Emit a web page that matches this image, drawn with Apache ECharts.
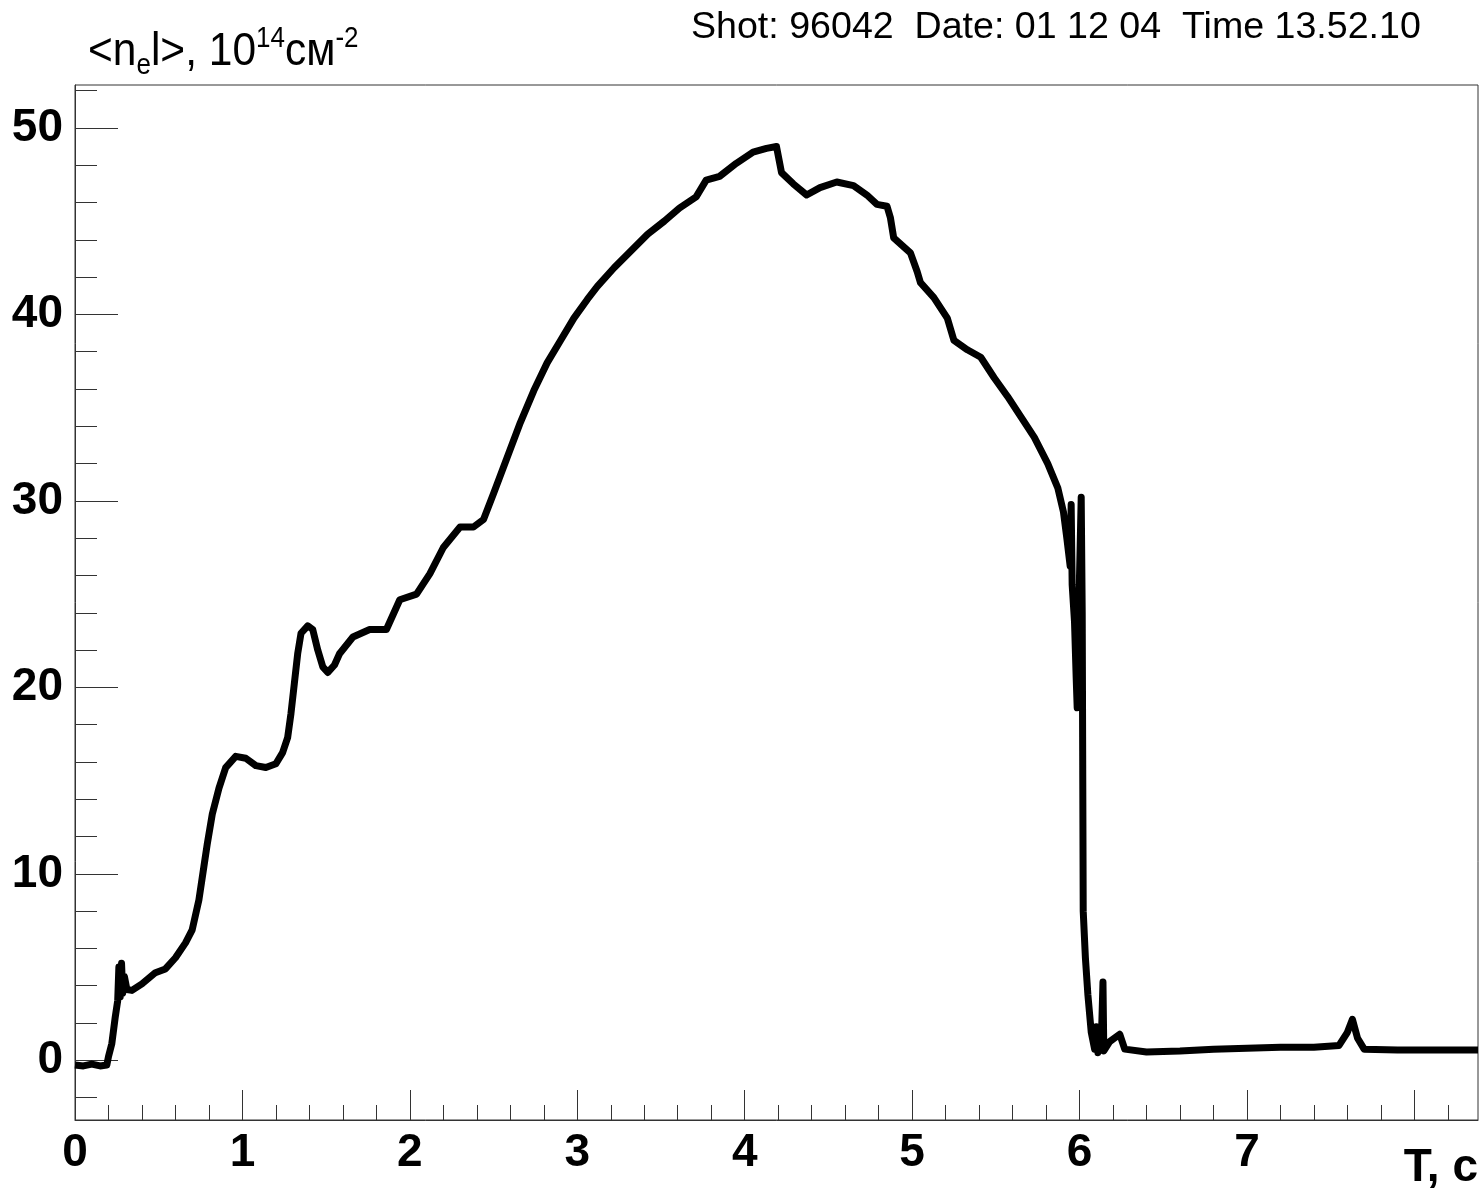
<!DOCTYPE html>
<html>
<head>
<meta charset="utf-8">
<script src="https://cdn.jsdelivr.net/npm/echarts@6/dist/echarts.min.js"></script>
<style>
html,body{margin:0;padding:0;background:#fff;}
#chart{width:1484px;height:1191px;}
</style>
</head>
<body>
<div id="chart"></div>
<script>
// Time, s
const timeS = [
  0.00, 0.05, 0.10, 0.15, 0.19, 0.20, 0.22, 0.24, 0.255, 0.262, 0.27, 0.278, 0.285, 0.295, 0.31,
  0.34, 0.40, 0.48, 0.54, 0.60, 0.66, 0.70, 0.74, 0.77, 0.79, 0.82, 0.86, 0.90, 0.96,
  1.02, 1.08, 1.14, 1.20, 1.24, 1.27, 1.29, 1.31, 1.33, 1.35, 1.39, 1.42, 1.45, 1.48,
  1.51, 1.55, 1.58, 1.66, 1.76, 1.86, 1.94, 2.04, 2.12, 2.20, 2.30, 2.38, 2.44, 2.50,
  2.58, 2.66, 2.74, 2.82, 2.90, 2.98, 3.06, 3.12, 3.22, 3.32, 3.42, 3.52, 3.61, 3.71,
  3.77, 3.85, 3.95, 4.05, 4.13, 4.19, 4.22, 4.29, 4.37, 4.45, 4.55, 4.65, 4.73, 4.79,
  4.85, 4.87, 4.89, 4.99, 5.03, 5.05, 5.13, 5.21, 5.25, 5.33, 5.41, 5.49, 5.57, 5.65,
  5.73, 5.81, 5.87, 5.904, 5.924, 5.944, 5.950, 5.956, 5.970, 5.980, 5.986, 5.992,
  6.000, 6.010, 6.016, 6.022, 6.035, 6.050, 6.070, 6.090, 6.100, 6.110, 6.130, 6.140,
  6.145, 6.180, 6.240, 6.270, 6.40, 6.60, 6.80, 7.00, 7.20, 7.40, 7.55, 7.60, 7.63,
  7.66, 7.70, 7.90, 8.10, 8.38
];
// <n_e l>, 10^14 cm^-2
const density = [
  -0.25, -0.30, -0.20, -0.30, -0.25, 0.2, 0.9, 2.3, 3.2, 5.0, 3.4, 5.2, 3.6, 4.5, 3.8,
  3.75, 4.1, 4.7, 4.9, 5.5, 6.3, 7.0, 8.6, 10.4, 11.6, 13.2, 14.6, 15.7, 16.3,
  16.2, 15.8, 15.7, 15.9, 16.5, 17.3, 18.6, 20.2, 21.8, 22.9, 23.3, 23.1, 22.0, 21.1,
  20.8, 21.2, 21.8, 22.7, 23.1, 23.1, 24.7, 25.0, 26.1, 27.5, 28.6, 28.6, 29.0, 30.4,
  32.3, 34.2, 35.9, 37.4, 38.6, 39.8, 40.8, 41.5, 42.5, 43.4, 44.3, 45.0, 45.7, 46.3,
  47.2, 47.4, 48.1, 48.7, 48.9, 49.0, 47.6, 47.0, 46.4, 46.8, 47.1, 46.9, 46.4, 45.9,
  45.8, 45.2, 44.1, 43.3, 42.3, 41.7, 40.9, 39.8, 38.6, 38.1, 37.7, 36.6, 35.6, 34.5,
  33.4, 32.0, 30.7, 29.4, 28.0, 26.5, 29.8, 25.5, 23.5, 20.5, 18.9, 20.0,
  26.0, 30.2, 24.0, 8.0, 5.5, 3.5, 1.5, 0.6, 1.8, 0.4, 1.0, 4.2,
  0.5, 1.0, 1.4, 0.6, 0.45, 0.5, 0.6, 0.65, 0.7, 0.7, 0.8, 1.5, 2.2,
  1.2, 0.6, 0.55, 0.55, 0.55
];
// Tick labels / ticks
const xMajorTicks = [0, 1, 2, 3, 4, 5, 6, 7, 8];
const xLabelValues = [0, 1, 2, 3, 4, 5, 6, 7];
const xMinorTicks = [0.2,0.4,0.6,0.8, 1.2,1.4,1.6,1.8, 2.2,2.4,2.6,2.8, 3.2,3.4,3.6,3.8,
  4.2,4.4,4.6,4.8, 5.2,5.4,5.6,5.8, 6.2,6.4,6.6,6.8, 7.2,7.4,7.6,7.8, 8.2];
const yMajorTicks = [0, 10, 20, 30, 40, 50];
const yMinorTicks = [-2, 2,4,6,8, 12,14,16,18, 22,24,26,28, 32,34,36,38, 42,44,46,48, 52];

const headerText = 'Shot: 96042  Date: 01 12 04  Time 13.52.10';
const xTitle = 'T, c';

const X_MIN = 0, X_MAX = 8.38, Y_MIN = -3.2, Y_MAX = 52.3;
const FONT = '"Liberation Sans", Arial, sans-serif';
const AX = '#333';

const chart = echarts.init(document.getElementById('chart'), null, {renderer: 'canvas'});
const seriesData = timeS.map((t, i) => [t, density[i]]);

chart.setOption({
  animation: false,
  backgroundColor: '#fff',
  grid: {left: 75, top: 85, right: 6, bottom: 71, show: true, borderColor: AX, borderWidth: 1, containLabel: false},
  xAxis: [{
    type: 'value', min: X_MIN, max: X_MAX, position: 'bottom',
    axisLine: {show: true, onZero: false, lineStyle: {color: AX, width: 1}},
    splitLine: {show: false},
    axisTick: {show: true, inside: true, length: 30, customValues: xMajorTicks, lineStyle: {color: AX, width: 1}},
    axisLabel: {show: true, customValues: xLabelValues, margin: 10, fontSize: 46, fontWeight: 'bold', fontFamily: FONT, color: '#000'}
  }, {
    type: 'value', min: X_MIN, max: X_MAX, position: 'bottom',
    axisLine: {show: false, onZero: false}, splitLine: {show: false}, axisLabel: {show: false},
    axisTick: {show: true, inside: true, length: 15, customValues: xMinorTicks, lineStyle: {color: AX, width: 1}}
  }],
  yAxis: [{
    type: 'value', min: Y_MIN, max: Y_MAX, position: 'left',
    axisLine: {show: true, onZero: false, lineStyle: {color: AX, width: 1}},
    splitLine: {show: false},
    axisTick: {show: true, inside: true, length: 43, customValues: yMajorTicks, lineStyle: {color: AX, width: 1}},
    axisLabel: {show: true, customValues: yMajorTicks, margin: 12, fontSize: 46, fontWeight: 'bold', fontFamily: FONT, color: '#000'}
  }, {
    type: 'value', min: Y_MIN, max: Y_MAX, position: 'left',
    axisLine: {show: false, onZero: false}, splitLine: {show: false}, axisLabel: {show: false},
    axisTick: {show: true, inside: true, length: 22, customValues: yMinorTicks, lineStyle: {color: AX, width: 1}}
  }],
  series: [{
    type: 'line', xAxisIndex: 0, yAxisIndex: 0, data: seriesData,
    showSymbol: false, symbol: 'none', smooth: false, clip: true,
    lineStyle: {color: '#000', width: 7, join: 'round'}
  }],
  graphic: [
    {
      type: 'text', x: 88, y: 25, scaleY: 1.1, z: 100,
      style: {
        text: '{m|<n}{s|e}{m|l>, 10}{p|14}{m|см}{p|-2}',
        fill: '#000',
        rich: {
          m: {fontSize: 42.5, fontFamily: FONT, lineHeight: 50, fill: '#000'},
          s: {fontSize: 26, fontFamily: FONT, lineHeight: 30, verticalAlign: 'bottom', fill: '#000'},
          p: {fontSize: 26, fontFamily: FONT, lineHeight: 30, verticalAlign: 'top', fill: '#000'}
        }
      }
    },
    {
      type: 'text', x: 691, y: 9, z: 100,
      style: {text: headerText, fontSize: 37.6, fontFamily: FONT, fill: '#000'}
    },
    {
      type: 'text', right: 6, top: 1145, z: 100,
      style: {text: xTitle, fontSize: 46, fontWeight: 'bold', fontFamily: FONT, fill: '#000'}
    }
  ]
});
</script>
</body>
</html>
